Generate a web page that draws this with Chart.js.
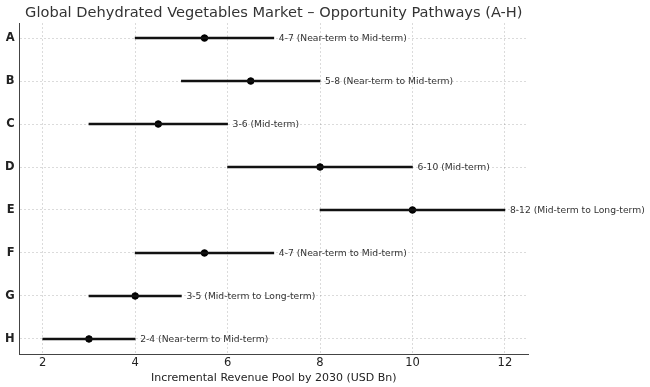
<!DOCTYPE html>
<html>
<head>
<meta charset="utf-8">
<script src="https://cdn.jsdelivr.net/npm/chart.js@4.4.1/dist/chart.umd.min.js"></script>
<style>
  html, body { margin: 0; padding: 0; background: #fff; }
  #wrap { width: 650px; height: 387px; }
</style>
</head>
<body>
<div id="wrap"><canvas id="rangeChart"></canvas></div>
<script>
// opportunity pathways, low/high range and midpoint (USD Bn)
var categories = ["A", "B", "C", "D", "E", "F", "G", "H"];
var lowValues  = [4, 5, 3, 6, 8, 4, 3, 2];
var highValues = [7, 8, 6, 10, 12, 7, 5, 4];
var midValues  = [5.5, 6.5, 4.5, 8, 10, 5.5, 4, 3];
var horizons   = ["Near-term to Mid-term", "Near-term to Mid-term", "Mid-term", "Mid-term",
                  "Mid-term to Long-term", "Near-term to Mid-term", "Mid-term to Long-term", "Near-term to Mid-term"];
var xTicks = [2, 4, 6, 8, 10, 12];

var FONT = "'DejaVu Sans', sans-serif";

var rangeData = categories.map(function(c, i) { return { x: [lowValues[i], highValues[i]], y: i }; });
var midData = categories.map(function(c, i) { return { x: midValues[i], y: i }; });

var rangeLabels = {
    id: "rangeLabels",
    afterDatasetsDraw: function(chart) {
        var ctx = chart.ctx;
        var xs = chart.scales.x, ys = chart.scales.y;
        ctx.save();
        ctx.font = "9.2px " + FONT;
        ctx.fillStyle = "#333";
        ctx.textAlign = "left";
        ctx.textBaseline = "middle";
        for (var i = 0; i < categories.length; i++) {
            var txt = lowValues[i] + "-" + highValues[i] + " (" + horizons[i] + ")";
            ctx.fillText(txt, xs.getPixelForValue(highValues[i]) + 5, ys.getPixelForValue(i) + 0.5);
        }
        // title centred over the plot area
        var area = chart.chartArea;
        ctx.font = "14.6px " + FONT;
        ctx.fillStyle = "#333";
        ctx.textAlign = "center";
        ctx.textBaseline = "middle";
        ctx.fillText("Global Dehydrated Vegetables Market \u2013 Opportunity Pathways (A-H)", (area.left + area.right) / 2, 13);
        ctx.restore();
    }
};

var ctx = document.getElementById("rangeChart");
var myChart = new Chart(ctx, {
    type: "bar",
    data: {
        datasets: [
            {
                type: "bar",
                label: "Range",
                data: rangeData,
                backgroundColor: "#111",
                borderWidth: 0,
                barThickness: 1.7
            },
            {
                type: "scatter",
                label: "Midpoint",
                data: midData,
                backgroundColor: "#000",
                borderColor: "#000",
                pointRadius: 3.3,
                pointHoverRadius: 3.3
            }
        ]
    },
    plugins: [rangeLabels],
    options: {
        responsive: true,
        maintainAspectRatio: false,
        animation: false,
        indexAxis: "y",
        layout: { padding: { top: 23, right: 122, left: 0, bottom: 2 } },
        plugins: {
            legend: { display: false },
            title: { display: false },
            tooltip: { enabled: false }
        },
        scales: {
            x: {
                type: "linear",
                min: 1.5,
                max: 12.5,
                offset: false,
                afterBuildTicks: function(scale) {
                    scale.ticks = xTicks.map(function(v) { return { value: v }; });
                },
                grid: { color: "rgba(0,0,0,0.14)", drawTicks: false, offset: false },
                border: { display: true, color: "#444", width: 1, dash: [2, 2] },
                ticks: { color: "#222", font: { family: FONT, size: 11.5 }, padding: 2 },
                title: {
                    display: true,
                    text: "Incremental Revenue Pool by 2030 (USD Bn)",
                    color: "#222",
                    font: { family: FONT, size: 11 },
                    padding: { top: 0, bottom: 0 }
                }
            },
            y: {
                type: "linear",
                reverse: true,
                min: -0.35,
                max: 7.35,
                offset: false,
                afterBuildTicks: function(scale) {
                    scale.ticks = categories.map(function(c, i) { return { value: i }; });
                },
                grid: { color: "rgba(0,0,0,0.14)", drawTicks: false, offset: false },
                border: { display: true, color: "#444", width: 1, dash: [2, 2] },
                ticks: {
                    color: "#222",
                    font: { family: FONT, size: 11.5, weight: "bold" },
                    padding: 5,
                    callback: function(v) { return categories[v]; }
                }
            }
        }
    }
});
</script>
</body>
</html>
